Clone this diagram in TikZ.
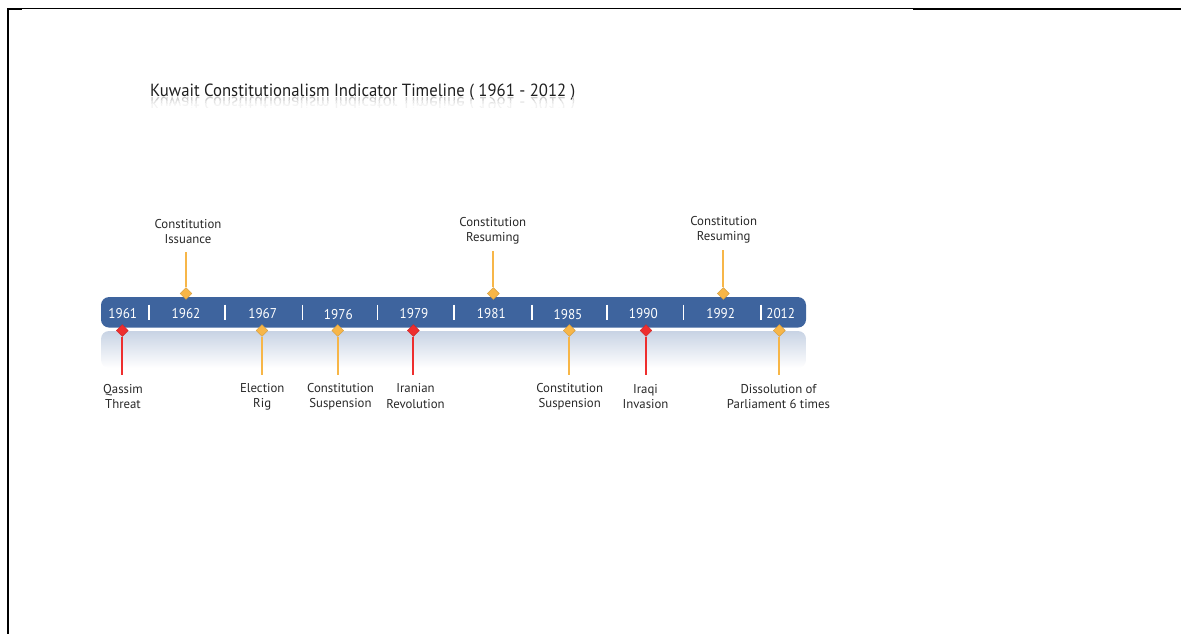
\documentclass[tikz,border=0pt]{standalone}
\usepackage{fontspec}
\setmainfont{PT Sans}
\newfontfamily\titlefam[FakeStretch=0.95]{PT Sans}
\newfontfamily\yearfam[FakeStretch=0.93]{PT Sans}
\usetikzlibrary{shapes.geometric}
\definecolor{barblue}{RGB}{62,100,158}
\definecolor{evorange}{RGB}{247,182,72}
\definecolor{evred}{RGB}{238,46,46}
\definecolor{labelgray}{RGB}{40,40,40}
\definecolor{reflblue}{RGB}{200,211,228}
\tikzset{
  evlabel/.style={font=\fontsize{12.8}{15.2}\selectfont, text=labelgray, align=center, inner sep=0pt},
  yearlbl/.style={font=\yearfam\fontsize{14.2}{16}\selectfont, text=white, inner sep=0pt},
  gem/.style={diamond, inner sep=0pt, minimum width=12pt, minimum height=12pt, draw=#1!85!black, line width=0.4pt, fill=#1},
  stemline/.style={draw=#1, line width=1.8pt},
  sepline/.style={draw=white, line width=1.6pt},
  titlefont/.style={font=\titlefam\fontsize{17.6}{20}\selectfont, inner sep=0pt, anchor=base west}
}
\begin{document}
\begin{tikzpicture}[x=1pt,y=-1pt]
\useasboundingbox (0,0) rectangle (1181,634);
% frame
\draw[line width=2pt] (7.7,634) -- (7.7,9.5) -- (22,9.5);
\draw[line width=1pt] (22,9) -- (913,9);
\draw[line width=2pt] (913,9) -- (1181,9);
% title and reflection
\node[titlefont, text=black!88] (title) at (150,96.5) {Kuwait Constitutionalism Indicator Timeline ( 1961 - 2012 )};
\begin{scope}
  \clip (140,97.5) rectangle (600,100.5);
  \node[titlefont, text=black!20, yscale=-1, transform shape] at (150,97.5) {Kuwait Constitutionalism Indicator Timeline ( 1961 - 2012 )};
\end{scope}
\begin{scope}
  \clip (140,100.5) rectangle (600,103.5);
  \node[titlefont, text=black!11, yscale=-1, transform shape] at (150,97.5) {Kuwait Constitutionalism Indicator Timeline ( 1961 - 2012 )};
\end{scope}
\begin{scope}
  \clip (140,103.5) rectangle (600,107);
  \node[titlefont, text=black!5, yscale=-1, transform shape] at (150,97.5) {Kuwait Constitutionalism Indicator Timeline ( 1961 - 2012 )};
\end{scope}
% bar reflection
\shade[top color=reflblue, bottom color=white, rounded corners=8pt] (101,331) rectangle (806,368);
% bar
\node[fill=barblue, rounded corners=8pt, minimum width=705pt, minimum height=30.5pt, inner sep=0pt] (bar) at (453.5,312.3) {};
\foreach \x in {148.7,225,302.3,377.3,454.2,531.7,606.7,683.3,760.7}
  \draw[sepline] (\x,304.5) -- (\x,319.5);
% years
\node[yearlbl] (y1961) at (122.8,313.5) {1961};
\node[yearlbl] (y1962) at (186,313.5) {1962};
\node[yearlbl] (y1967) at (262.7,314) {1967};
\node[yearlbl] (y1976) at (338.3,315) {1976};
\node[yearlbl] (y1979) at (414,313.5) {1979};
\node[yearlbl] (y1981) at (491.3,313.5) {1981};
\node[yearlbl] (y1985) at (568,315) {1985};
\node[yearlbl] (y1990) at (643.3,314) {1990};
\node[yearlbl] (y1992) at (720.7,314) {1992};
\node[yearlbl] (y2012) at (780.7,314) {2012};
% markers above
\node[gem=evorange] (d1962) at (186,293.5) {};
\node[gem=evorange] (d1981) at (493.3,293.5) {};
\node[gem=evorange] (d1992) at (723.3,293.5) {};
\coordinate (t1962) at (186,252);
\coordinate (t1981) at (493.3,251);
\coordinate (t1992) at (723.3,250);
\draw[stemline=evorange] (d1962.north) -- (t1962);
\draw[stemline=evorange] (d1981.north) -- (t1981);
\draw[stemline=evorange] (d1992.north) -- (t1992);
\node[evlabel] (l1962) at (188,231.5) {Constitution\\Issuance};
\node[evlabel] (l1981) at (492.8,230.5) {Constitution\\Resuming};
\node[evlabel] (l1992) at (723.7,229.5) {Constitution\\Resuming};
% markers below
\node[gem=evred] (d1961) at (122.3,330.5) {};
\node[gem=evorange] (d1967) at (262,330.5) {};
\node[gem=evorange] (d1976) at (337.7,330.5) {};
\node[gem=evred] (d1979) at (413.3,330.5) {};
\node[gem=evorange] (d1985) at (569.3,330.5) {};
\node[gem=evred] (d1990) at (646,330.5) {};
\node[gem=evorange] (d2012) at (779.3,330.5) {};
\coordinate (b1961) at (122.3,375);
\coordinate (b1967) at (262,375);
\coordinate (b1976) at (337.7,375);
\coordinate (b1979) at (413.3,375);
\coordinate (b1985) at (569.3,375);
\coordinate (b1990) at (646,375);
\coordinate (b2012) at (779.3,375);
\draw[stemline=evred] (d1961.south) -- (b1961);
\draw[stemline=evorange] (d1967.south) -- (b1967);
\draw[stemline=evorange] (d1976.south) -- (b1976);
\draw[stemline=evred] (d1979.south) -- (b1979);
\draw[stemline=evorange] (d1985.south) -- (b1985);
\draw[stemline=evred] (d1990.south) -- (b1990);
\draw[stemline=evorange] (d2012.south) -- (b2012);
\node[evlabel] (l1961) at (123,396.5) {Qassim\\Threat};
\node[evlabel] (l1967) at (262.2,396.5) {Election\\Rig};
\node[evlabel] (l1976) at (340.5,396.5) {Constitution\\Suspension};
\node[evlabel] (l1979) at (415.5,396) {Iranian\\Revolution};
\node[evlabel] (l1985) at (569.7,396.5) {Constitution\\Suspension};
\node[evlabel] (l1990) at (645.5,396.5) {Iraqi\\Invasion};
\node[evlabel] (l2012) at (778.5,396.5) {Dissolution of\\Parliament 6 times};
\end{tikzpicture}
\end{document}
